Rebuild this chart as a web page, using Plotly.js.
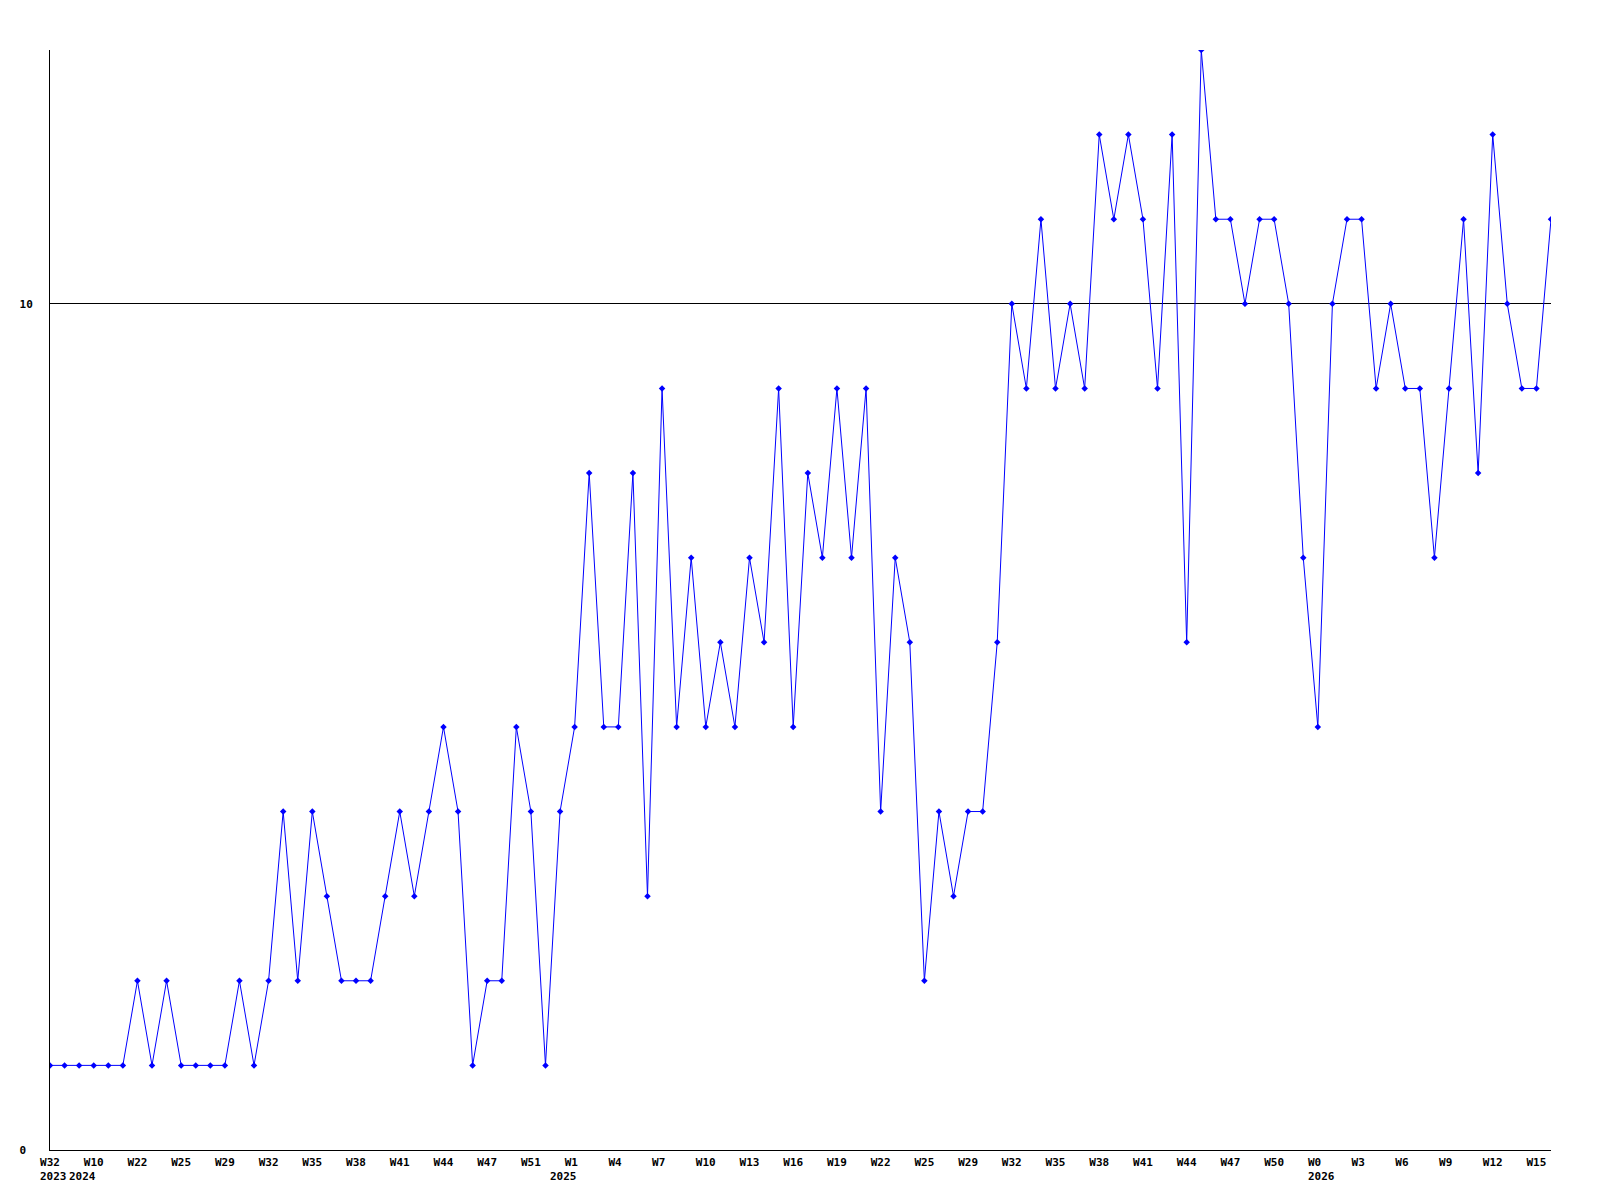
<!DOCTYPE html>
<html>
<head>
<meta charset="utf-8">
<script src="https://cdn.plot.ly/plotly-3.0.1.min.js"></script>
<style>html,body{margin:0;padding:0;background:#fff;}#chart{width:1600px;height:1200px;}</style>
</head>
<body>
<div id="chart"></div>
<script>
// Weekly values, in order (104 weeks)
const values = [
  1,1,1,1,1,1,2,1,2,1,1,1,1,2,1,2,4,2,4,3,
  2,2,2,3,4,3,4,5,4,1,2,2,5,4,1,4,5,8,5,5,
  8,3,9,5,7,5,6,5,7,6,9,5,8,7,9,7,9,4,7,6,
  2,4,3,4,4,6,10,9,11,9,10,9,12,11,12,11,9,12,6,13,
  11,11,10,11,11,10,7,5,10,11,11,9,10,9,9,7,9,11,8,12,
  10,9,9,11
];
// Tick labels shown every third week
const tickLabels = ["W32","W10","W22","W25","W29","W32","W35","W38","W41","W44","W47","W51",
  "W1","W4","W7","W10","W13","W16","W19","W22","W25","W29","W32","W35",
  "W38","W41","W44","W47","W50","W0","W3","W6","W9","W12","W15"];
const tickStep = 3;
// Year labels and the week index where each year begins
const yearLabels = ["2023","2024","2025","2026"];
const yearStart = [0, 2, 35, 87];
const yTickVals = [0, 10];
const yTickText = ["0\u00a0", "10"];

const xs = values.map((_, i) => i);
const tickVals = tickLabels.map((_, k) => k * tickStep);
const tickText = tickLabels.map(t => t.length < 3 ? t + "\u00a0".repeat(3 - t.length) : t);

const font = {family: "DejaVu Sans Mono", size: 11, color: "#000"};

const trace = {
  x: xs, y: values, type: "scatter", mode: "lines+markers",
  line: {color: "#0000ff", width: 1},
  marker: {color: "#0000ff", size: 5, symbol: "diamond"},
  hoverinfo: "none"
};

const annotations = yearLabels.map((t, k) => ({
  text: "<b>" + t + "</b>", x: yearStart[k], xref: "x", y: 0, yref: "paper",
  xanchor: "left", yanchor: "top", xshift: -12, yshift: -18, showarrow: false,
  font: font
}));

const layout = {
  width: 1600, height: 1200,
  margin: {l: 50, r: 49, t: 50, b: 50},
  paper_bgcolor: "#fff", plot_bgcolor: "#fff",
  showlegend: false,
  font: font,
  xaxis: {
    range: [0, values.length - 1], tickmode: "array", tickvals: tickVals,
    ticktext: tickText.map(t => "<b>" + t + "</b>"),
    showgrid: false, zeroline: false, showline: true, linecolor: "#000", linewidth: 1,
    ticks: "outside", ticklen: 2, tickcolor: "rgba(0,0,0,0)", tickangle: 0,
    tickfont: font, fixedrange: true
  },
  yaxis: {
    range: [0, 13], tickmode: "array", tickvals: yTickVals,
    ticktext: yTickText.map(t => "<b>" + t + "</b>"),
    showgrid: true, gridcolor: "#000", gridwidth: 1, zeroline: false,
    showline: true, linecolor: "#000", linewidth: 1,
    ticks: "outside", ticklen: 14, tickcolor: "rgba(0,0,0,0)",
    tickfont: font, fixedrange: true
  },
  annotations: annotations
};

Plotly.newPlot("chart", [trace], layout, {displayModeBar: false, staticPlot: true});
</script>
</body>
</html>
